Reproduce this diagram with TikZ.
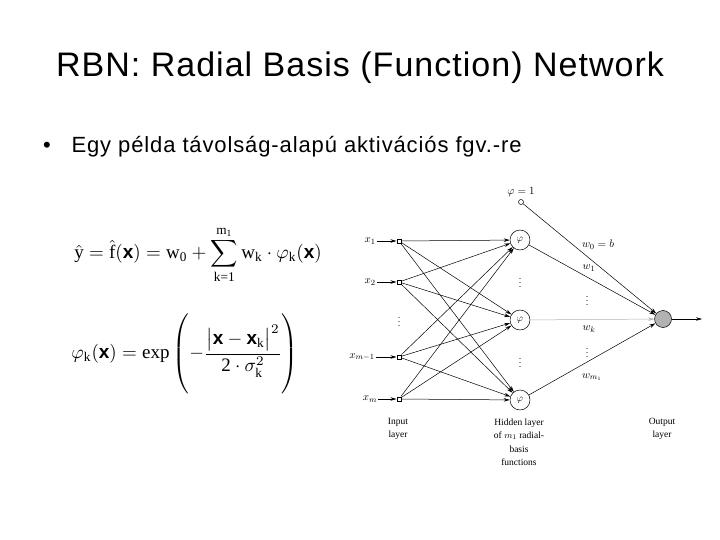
\documentclass[tikz,border=0pt]{standalone}
\usepackage{fontspec}
\usepackage{amsmath}
\setmainfont{Liberation Sans}
\newfontfamily\tms{Liberation Serif}
\newfontfamily\ttl[LetterSpace=3]{Liberation Sans}
\newfontfamily\btx[LetterSpace=4]{Liberation Sans}
\usetikzlibrary{arrows.meta}
\tikzset{
  inp/.style={draw, rectangle, minimum size=4.5pt, inner sep=0pt, line width=0.5pt},
  hid/.style={draw, circle, minimum size=20pt, inner sep=0pt, line width=0.5pt},
  outn/.style={draw, circle, minimum size=17pt, inner sep=0pt, fill=gray!60, line width=0.5pt},
  biasn/.style={draw, circle, minimum size=5pt, inner sep=0pt, line width=0.5pt},
  con/.style={line width=0.5pt, -{Stealth[length=6pt,width=3.5pt]}},
  lab/.style={font=\tms\fontsize{9.5}{13.5}\selectfont, align=center},
  vlab/.style={font=\tms\fontsize{11}{12}\selectfont, inner sep=1pt},
  dts/.style={font=\fontsize{9}{9}\selectfont, inner sep=0pt}
}
\begin{document}
\begin{tikzpicture}[x=1pt,y=-1pt]
\useasboundingbox (0,0) rectangle (720,540);
\node[font=\ttl\fontsize{34}{40}\selectfont] (title) at (360,68) {RBN: Radial Basis (Function) Network};
\node[font=\fontsize{22}{26}\selectfont] (bul) at (47,147) {•};
\node[anchor=west, font=\btx\fontsize{22}{26}\selectfont] (btext) at (68,147) {Egy példa távolság-alapú aktivációs fgv.-re};

% equations
\node[scale=1.9] (eq1) at (198,255) {$\displaystyle \hat{\text{\tms y}} = \hat{\text{\tms f}}(\mathbf{x}) = \text{\tms w}_{\text{\tms 0}} + \sum_{\text{\tms k=1}}^{\text{\tms m}_{\text{\tms 1}}} \text{\tms w}_{\text{\tms k}}\cdot\varphi_{\text{\tms k}}(\mathbf{x})$};
\node[scale=1.9] (eq2) at (185,354) {$\displaystyle \varphi_{\text{\tms k}}(\mathbf{x}) = \text{\tms exp}\left(-\frac{\bigl|\mathbf{x}-\mathbf{x}_{\text{\tms k}}\bigr|^2}{\text{\tms 2}\cdot\sigma_{\text{\tms k}}^2}\rule[-17.5pt]{0pt}{40pt}\right)$};

% network nodes
\node[biasn] (b) at (521,202) {};
\node[vlab, above=1pt] (blab) at (b.north) {$\varphi = 1$};
\node[inp] (i1) at (399,241) {};
\node[inp] (i2) at (399,282) {};
\node[inp] (i3) at (399,357) {};
\node[inp] (i4) at (399,399) {};
\node[vlab] (x1) at (370,241) {$x_1$};
\node[vlab] (x2) at (370,282) {$x_2$};
\node[vlab] (x3) at (362,357) {$x_{m-1}$};
\node[vlab] (x4) at (370,399) {$x_m$};
\node[dts] (d1) at (399,319) {$\vdots$};
\node[hid] (h1) at (520,240) {$\varphi$};
\node[hid] (h2) at (520,320) {$\varphi$};
\node[hid] (h3) at (520,400) {$\varphi$};
\node[dts] (d2) at (520,280) {$\vdots$};
\node[dts] (d3) at (520,360) {$\vdots$};
\node[outn] (o) at (663,319) {};
\coordinate (oe) at (702,319);

% connectors
\foreach \x/\i in {x1/i1,x2/i2,x3/i3,x4/i4} \draw[con] (\x) -- (\i);
\foreach \i in {i1,i2,i3,i4} \foreach \h in {h1,h2,h3} \draw[con] (\i) -- (\h);
\draw[con] (b) -- (o);
\draw[con] (h1) -- (o);
\draw[con, draw=gray!60] (h2) -- (o);
\draw[con] (h3) -- (o);
\draw[con] (o) -- (oe);

% weight labels
\node[vlab] (w0) at (598,245) {$w_0 = b$};
\node[vlab] (w1) at (589,268) {$w_1$};
\node[dts] (d4) at (587,298) {$\vdots$};
\node[vlab] (wk) at (589,329) {$w_k$};
\node[dts] (d5) at (587,350) {$\vdots$};
\node[vlab] (wm) at (592,377) {$w_{m_1}$};

% layer labels
\node[lab] (li) at (398,429) {Input\\layer};
\node[lab] (lh) at (519,442) {Hidden layer\\of $m_1$ radial-\\basis\\functions};
\node[lab] (lo) at (662,429) {Output\\layer};
\end{tikzpicture}
\end{document}
